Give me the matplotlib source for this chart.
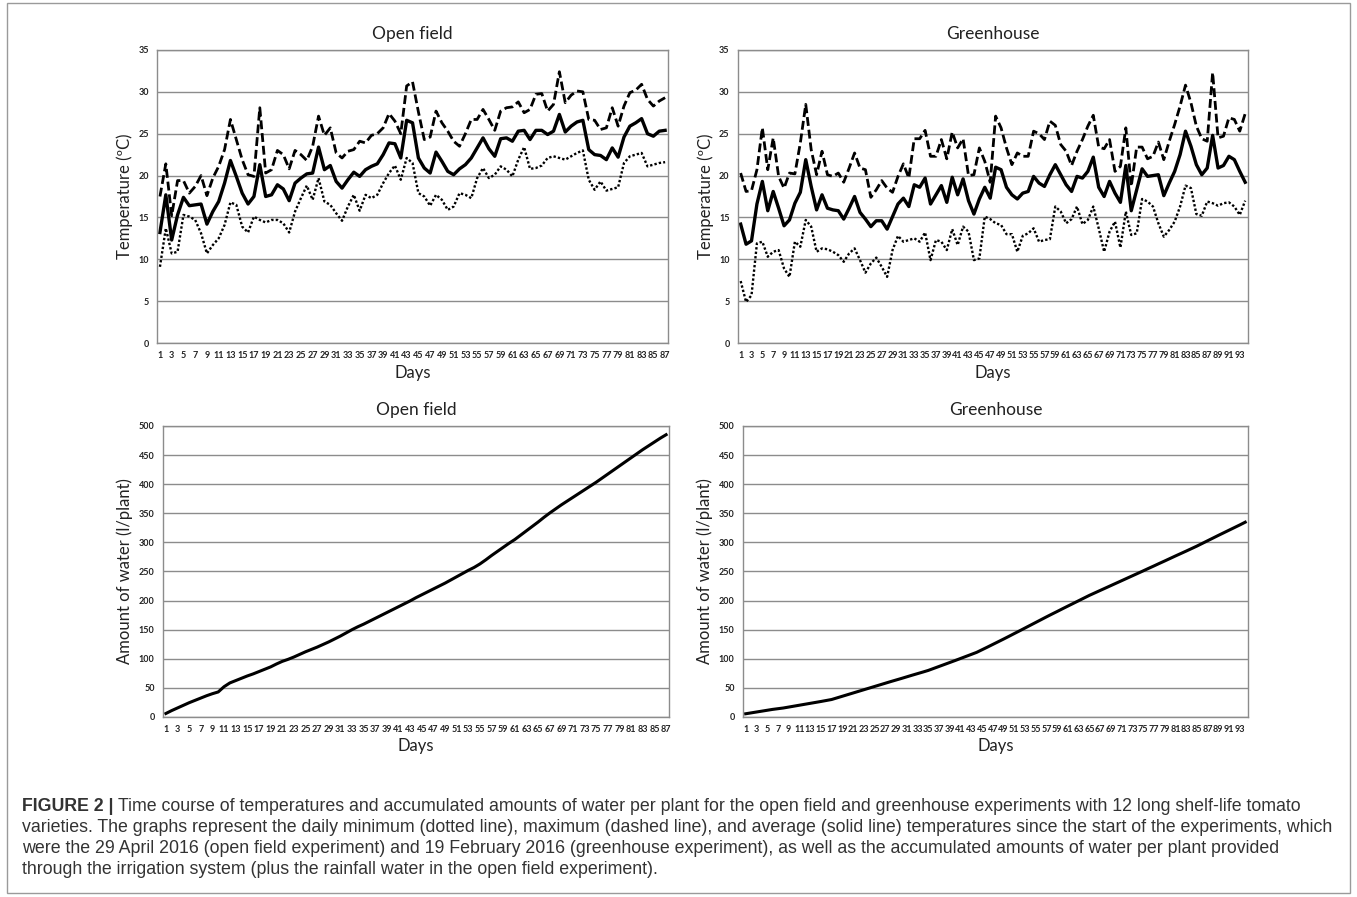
import numpy as np
import matplotlib.pyplot as plt
from matplotlib.patches import Rectangle

# daily temperatures, open field (days 1-87)
open_max = [17.5, 21.4, 15.2, 19.4, 19.4, 17.9, 18.7, 20.0, 17.6, 19.7,
            21.1, 23.1, 26.7, 24.3, 21.9, 20.1, 19.9, 28.1, 20.3, 20.7,
            23.0, 22.5, 20.8, 23.0, 22.5, 21.8, 23.5, 27.1, 24.8, 25.7,
            22.7, 22.1, 22.9, 23.1, 24.1, 23.9, 24.8, 25.0, 25.7, 27.4,
            26.5, 25.0, 30.7, 31.2, 27.6, 24.3, 24.6, 27.7, 26.3, 25.3,
            24.1, 23.5, 25.0, 26.7, 26.7, 27.9, 26.7, 25.4, 27.7, 28.1,
            28.2, 28.8, 27.5, 27.9, 29.7, 29.8, 27.7, 28.5, 32.4, 28.7,
            29.6, 30.1, 30.0, 26.7, 26.6, 25.5, 25.7, 28.1, 25.9, 28.3,
            29.9, 30.2, 30.9, 29.1, 28.3, 28.9, 29.3]
open_avg = [13.2, 17.7, 12.3, 15.3, 17.4, 16.4, 16.5, 16.6, 14.2, 15.7,
            16.9, 19.1, 21.8, 19.9, 17.9, 16.6, 17.5, 21.3, 17.5, 17.7,
            18.9, 18.4, 17.0, 19.1, 19.7, 20.2, 20.3, 23.4, 20.7, 21.2,
            19.3, 18.5, 19.5, 20.4, 19.9, 20.7, 21.1, 21.4, 22.5, 23.9,
            23.8, 22.1, 26.6, 26.3, 22.1, 20.9, 20.3, 22.8, 21.7, 20.5,
            20.1, 20.8, 21.3, 22.1, 23.3, 24.5, 23.2, 22.3, 24.4, 24.5,
            24.1, 25.3, 25.4, 24.3, 25.4, 25.4, 24.9, 25.3, 27.3, 25.2,
            25.9, 26.4, 26.6, 23.1, 22.5, 22.4, 21.9, 23.3, 22.2, 24.6,
            25.9, 26.3, 26.8, 25.0, 24.7, 25.3, 25.4]
open_min = [9.1, 13.7, 10.7, 10.9, 15.3, 15.1, 14.7, 13.1, 10.7, 11.7,
            12.5, 14.1, 16.8, 16.5, 13.9, 13.2, 15.1, 14.7, 14.4, 14.7,
            14.7, 14.3, 13.2, 15.7, 17.3, 18.8, 17.1, 19.7, 16.9, 16.5,
            15.5, 14.6, 16.3, 17.7, 15.8, 17.7, 17.3, 17.7, 19.1, 20.3,
            21.2, 19.5, 22.1, 21.5, 17.9, 17.5, 16.4, 17.7, 17.1, 15.9,
            16.3, 17.9, 17.7, 17.3, 19.7, 20.9, 19.7, 20.1, 21.1, 20.7,
            19.9, 21.9, 23.4, 20.8, 20.9, 21.2, 22.1, 22.3, 22.1, 21.9,
            22.3, 22.7, 23.0, 19.5, 18.3, 19.3, 18.2, 18.4, 18.6, 21.5,
            22.3, 22.5, 22.7, 21.1, 21.3, 21.5, 21.6]

# daily temperatures, greenhouse (days 1-94)
gh_max = [20.3, 18.1, 18.2, 20.7, 25.7, 20.7, 24.5, 19.9, 18.5, 20.3,
          20.2, 23.9, 28.5, 23.1, 20.1, 22.9, 20.1, 19.9, 20.3, 19.2,
          20.9, 22.7, 20.9, 20.7, 17.4, 18.3, 19.4, 18.5, 18.0, 19.9,
          21.4, 19.7, 24.4, 24.4, 25.4, 22.3, 22.3, 24.3, 22.0, 25.2,
          23.3, 24.4, 20.0, 20.1, 23.3, 21.7, 19.2, 27.1, 25.7, 23.3,
          21.3, 22.7, 22.3, 22.3, 25.3, 25.0, 24.3, 26.5, 26.0, 23.7,
          22.9, 21.2, 22.9, 24.3, 25.9, 27.2, 23.4, 23.2, 24.3, 20.5,
          21.1, 25.7, 18.7, 23.4, 23.4, 22.0, 22.3, 24.0, 21.9, 24.1,
          26.1, 28.3, 30.8, 28.7, 25.9, 24.4, 24.1, 32.3, 24.5, 24.7,
          26.9, 26.7, 25.3, 27.4]
gh_avg = [14.2, 11.8, 12.2, 16.6, 19.3, 15.8, 18.1, 16.1, 14.0, 14.7,
          16.7, 18.0, 21.9, 18.7, 15.9, 17.7, 16.1, 15.9, 15.8, 14.8,
          16.1, 17.5, 15.6, 14.8, 13.9, 14.6, 14.6, 13.6, 15.1, 16.6,
          17.3, 16.3, 18.9, 18.6, 19.7, 16.6, 17.7, 18.8, 16.8, 19.8,
          17.7, 19.6, 17.0, 15.4, 17.2, 18.6, 17.3, 21.0, 20.7, 18.6,
          17.7, 17.2, 17.9, 18.1, 19.9, 19.1, 18.7, 20.1, 21.3, 20.1,
          18.9, 18.1, 19.9, 19.7, 20.5, 22.2, 18.6, 17.5, 19.3, 17.9,
          16.8, 21.2, 15.8, 18.3, 20.8, 19.9, 20.0, 20.1, 17.6, 19.1,
          20.5, 22.5, 25.3, 23.5, 21.3, 20.1, 20.9, 24.8, 20.9, 21.2,
          22.3, 21.9, 20.5, 19.2]
gh_min = [7.4, 4.9, 5.7, 11.9, 12.1, 10.3, 10.9, 11.1, 8.9, 7.9,
          12.1, 11.5, 14.7, 13.9, 10.9, 11.3, 11.2, 10.9, 10.5, 9.7,
          10.7, 11.3, 9.9, 8.4, 9.5, 10.2, 9.1, 7.9, 11.1, 12.8,
          12.1, 12.3, 12.5, 12.1, 13.2, 9.9, 12.3, 12.1, 11.1, 13.6,
          11.7, 13.9, 13.3, 9.9, 10.1, 15.1, 14.8, 14.3, 14.1, 13.0,
          13.0, 10.9, 12.8, 13.1, 13.7, 12.1, 12.3, 12.4, 16.3, 15.7,
          14.3, 14.8, 16.3, 14.2, 14.7, 16.3, 13.7, 10.9, 13.3, 14.5,
          11.4, 15.7, 12.9, 13.1, 17.2, 16.9, 16.3, 14.3, 12.7, 13.5,
          14.5, 16.3, 18.8, 18.5, 15.4, 15.2, 16.9, 16.7, 16.4, 16.7,
          16.8, 16.3, 15.3, 17.0]

# accumulated water per plant (l/plant)
open_water = [6, 11, 15.5, 20, 24.5, 28.5, 32.5, 36.5, 40, 43,
              52, 58.5, 62.5, 66.5, 70.5, 74, 78, 82, 86, 91,
              95.5, 99, 103, 107.5, 112, 116, 120, 124.5, 129, 134,
              139, 144.5, 150, 155, 159.5, 164.5, 169.5, 174.5, 179.5, 184.5,
              189.5, 194.5, 199.5, 205, 210, 215, 220, 225, 230, 235.5,
              241, 246.5, 252, 257, 263, 270, 277.5, 284.5, 291.5, 298.5,
              305, 312.5, 320, 327.5, 335, 343, 350.5, 357.5, 364.5, 371,
              377.5, 384, 390.5, 397, 403.5, 410.5, 417.5, 424.5, 431.5, 438.5,
              445.5, 452.5, 459.5, 466, 472.5, 479, 485]
gh_water = [5.5, 7, 8.5, 10, 11.5, 13, 14.2, 15.4, 17, 18.6,
            20.2, 21.8, 23.4, 25, 26.6, 28.3, 30, 32.8, 35.6, 38.4,
            41.2, 44, 46.8, 49.6, 52.4, 55.2, 58, 60.8, 63.5, 66.2,
            69, 71.8, 74.5, 77.2, 80, 83.4, 86.8, 90.2, 93.6, 97,
            100.5, 104, 107.5, 111, 115.5, 120, 124.6, 129.2, 133.8, 138.5,
            143.3, 148, 152.8, 157.6, 162.4, 167.2, 172, 176.7, 181.3, 186,
            190.6, 195.2, 199.8, 204.4, 209, 213.2, 217.4, 221.6, 225.8, 230,
            234.2, 238.4, 242.6, 246.8, 251, 255.3, 259.5, 263.8, 268, 272.3,
            276.6, 280.8, 285, 289.3, 293.6, 298.2, 302.8, 307.4, 312, 316.5,
            321, 325.5, 330, 334.7]

days_open = np.arange(1, len(open_max) + 1)
days_gh = np.arange(1, len(gh_max) + 1)

caption_lines = [
    "Time course of temperatures and accumulated amounts of water per plant for the open field and greenhouse experiments with 12 long shelf-life tomato",
    "varieties. The graphs represent the daily minimum (dotted line), maximum (dashed line), and average (solid line) temperatures since the start of the experiments, which",
    "were the 29 April 2016 (open field experiment) and 19 February 2016 (greenhouse experiment), as well as the accumulated amounts of water per plant provided",
    "through the irrigation system (plus the rainfall water in the open field experiment).",
]

grid_col = '#8c8c8c'
lab_font = 'Lato'


def style_axes(ax, days, ymax, ystep, ylabel, title):
    ax.set_xlim(0.5, len(days) + 0.5)
    ax.set_ylim(0, ymax)
    ax.set_yticks(np.arange(0, ymax + 1, ystep))
    ax.set_xticks(days[::2])
    ax.set_xticklabels([str(d) for d in days[::2]], fontsize=6.5, fontweight='bold',
                       family=lab_font)
    for lab in ax.get_yticklabels():
        lab.set_fontsize(6.5)
        lab.set_fontweight('bold')
        lab.set_family(lab_font)
    ax.tick_params(length=0, pad=6, colors='#222222')
    ax.yaxis.grid(True, color=grid_col, linewidth=1)
    ax.set_axisbelow(True)
    for s in ax.spines.values():
        s.set_color(grid_col)
        s.set_linewidth(1)
    ax.set_xlabel('Days', fontsize=12, family=lab_font, labelpad=3, color='#222222')
    ax.set_ylabel(ylabel, fontsize=12, family=lab_font, labelpad=4, color='#222222')
    ax.set_title(title, fontsize=12.5, family=lab_font, pad=8, color='#222222')


fig = plt.figure(figsize=(13.57, 8.97), dpi=100)

ax1 = fig.add_axes([0.1157, 0.6176, 0.3766, 0.3267])
ax2 = fig.add_axes([0.5438, 0.6176, 0.3758, 0.3267])
ax3 = fig.add_axes([0.1201, 0.2007, 0.3729, 0.3244])
ax4 = fig.add_axes([0.5475, 0.2007, 0.3721, 0.3244])

# temperature panels
for ax, d, tmax, tavg, tmin in [(ax1, days_open, open_max, open_avg, open_min),
                                (ax2, days_gh, gh_max, gh_avg, gh_min)]:
    ax.plot(d, tmax, color='black', linewidth=2.0, linestyle=(0, (3.2, 1.4)))
    ax.plot(d, tavg, color='black', linewidth=2.4)
    ax.plot(d, tmin, color='black', linewidth=1.7, linestyle=(0, (1, 0.9)))

style_axes(ax1, days_open, 35, 5, 'Temperature (ºC)', 'Open field')
style_axes(ax2, days_gh, 35, 5, 'Temperature (ºC)', 'Greenhouse')

# water panels
ax3.plot(days_open, open_water, color='black', linewidth=2.2)
ax4.plot(days_gh, gh_water, color='black', linewidth=2.2)
style_axes(ax3, days_open, 500, 50, 'Amount of water (l/plant)', 'Open field')
style_axes(ax4, days_gh, 500, 50, 'Amount of water (l/plant)', 'Greenhouse')

# outer frame
fig.patches.append(Rectangle((7 / 1357, 1 - 893 / 897), 1343 / 1357, 890 / 897,
                             transform=fig.transFigure, fill=False,
                             edgecolor='#9a9a9a', linewidth=1))

# caption
cap_x = 22 / 1357
cap_y = [806, 827, 848, 869]
cap_col = '#333333'
cap_size = 12.8
head = fig.text(cap_x, 1 - cap_y[0] / 897, 'FIGURE 2 |', fontsize=cap_size, fontweight='bold',
                family='Liberation Sans', color=cap_col, va='center')
fig.canvas.draw()
bb = head.get_window_extent()
x_next = (bb.x1 + 5) / fig.bbox.width
fig.text(x_next, 1 - cap_y[0] / 897, caption_lines[0], fontsize=cap_size,
         family='Liberation Sans', color=cap_col, va='center')
for line, yy in zip(caption_lines[1:], cap_y[1:]):
    fig.text(cap_x, 1 - yy / 897, line, fontsize=cap_size, family='Liberation Sans',
             color=cap_col, va='center')

fig.savefig('out.png', dpi=100)
